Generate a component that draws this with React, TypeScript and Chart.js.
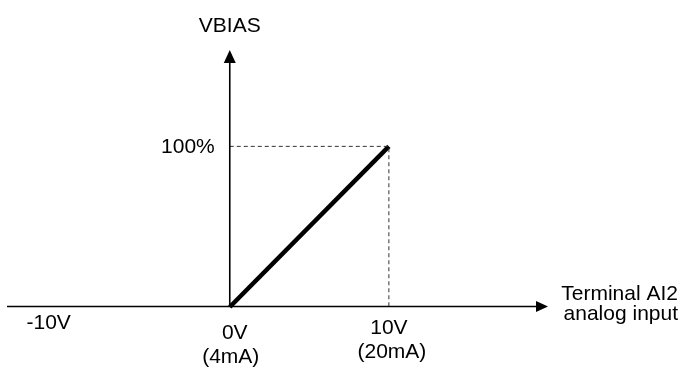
import React, { useEffect, useRef } from "react";
import { Chart, registerables } from "chart.js";

Chart.register(...registerables);

// Data
const lineX = [0, 10];
const lineY = [0, 100];
const guideX = [0, 10, 10];
const guideY = [100, 100, 0];
const xTickValues = [-10, 0, 10];
const xTickLabels = [["-10V"], ["0V", "(4mA)"], ["10V", "(20mA)"]];
const yTickValue = 100;
const yTickLabel = "100%";
const yAxisTitle = "VBIAS";
const xAxisTitle = ["Terminal AI2", "analog input"];

const FONT = "'Liberation Sans', Arial, Helvetica, sans-serif";

const diagramPlugin = {
  id: "diagram",
  afterDatasetsDraw(chart: any) {
    const ctx = chart.ctx as CanvasRenderingContext2D;
    const xs = chart.scales.x;
    const ys = chart.scales.y;
    const area = chart.chartArea;
    const x0 = xs.getPixelForValue(0);
    const y0 = ys.getPixelForValue(0);
    ctx.save();
    ctx.strokeStyle = "#000";
    ctx.fillStyle = "#000";
    ctx.lineWidth = 1.6;
    // x axis
    ctx.beginPath();
    ctx.moveTo(area.left, y0 - 0.5);
    ctx.lineTo(area.right - 10, y0 - 0.5);
    ctx.stroke();
    ctx.beginPath();
    ctx.moveTo(area.right, y0 - 0.5);
    ctx.lineTo(area.right - 12, y0 - 6);
    ctx.lineTo(area.right - 12, y0 + 5);
    ctx.closePath();
    ctx.fill();
    // y axis
    ctx.beginPath();
    ctx.moveTo(x0, y0);
    ctx.lineTo(x0, area.top + 10);
    ctx.stroke();
    ctx.beginPath();
    ctx.moveTo(x0, area.top);
    ctx.lineTo(x0 - 6, area.top + 13);
    ctx.lineTo(x0 + 6, area.top + 13);
    ctx.closePath();
    ctx.fill();

    // texts
    const size = 21;
    ctx.font = `${size}px ${FONT}`;
    ctx.textBaseline = "alphabetic";
    ctx.textAlign = "center";
    ctx.fillText(yAxisTitle, x0, area.top - 18);
    ctx.textAlign = "right";
    ctx.fillText(yTickLabel, x0 - 15, ys.getPixelForValue(yTickValue) + 7);

    const offs = [
      { dx: [-22], dy: [22] },
      { dx: [5, 1], dy: [32, 56] },
      { dx: [0, 3], dy: [27, 51] },
    ];
    xTickValues.forEach((v, i) => {
      const px = xs.getPixelForValue(v);
      const o = offs[i];
      ctx.textAlign = "center";
      xTickLabels[i].forEach((t, j) => {
        ctx.fillText(t, px + o.dx[j], y0 + o.dy[j]);
      });
    });

    ctx.textAlign = "right";
    xAxisTitle.forEach((t, j) => {
      ctx.fillText(t, chart.width - 6, y0 - 7 + j * 20);
    });
    ctx.restore();
  },
};

export default function App() {
  const ref = useRef<HTMLCanvasElement | null>(null);
  useEffect(() => {
    document.body.style.margin = "0";
    if (!ref.current) return;
    const chart = new Chart(ref.current, {
      type: "line",
      data: {
        datasets: [
          {
            data: guideX.map((x, i) => ({ x, y: guideY[i] })),
            borderColor: "#333",
            borderWidth: 1,
            borderDash: [4, 3],
            pointRadius: 0,
            fill: false,
            tension: 0,
          },
          {
            data: lineX.map((x, i) => ({ x, y: lineY[i] })),
            borderColor: "#000",
            borderWidth: 4.5,
            pointRadius: 0,
            fill: false,
            tension: 0,
            clip: false,
          } as any,
        ],
      },
      options: {
        animation: false,
        responsive: false,
        maintainAspectRatio: false,
        layout: { padding: { left: 7, right: 136, top: 50, bottom: 62 } },
        plugins: { legend: { display: false }, tooltip: { enabled: false } },
        scales: {
          x: { type: "linear", min: -14, max: 20, display: false },
          y: { type: "linear", min: 0, max: 160, display: false },
        },
      },
      plugins: [diagramPlugin],
    });
    return () => chart.destroy();
  }, []);
  return (
    <div style={{ position: "absolute", left: 0, top: 0, width: 684, height: 369, background: "#fff" }}>
      <canvas ref={ref} width={684} height={369} />
    </div>
  );
}
